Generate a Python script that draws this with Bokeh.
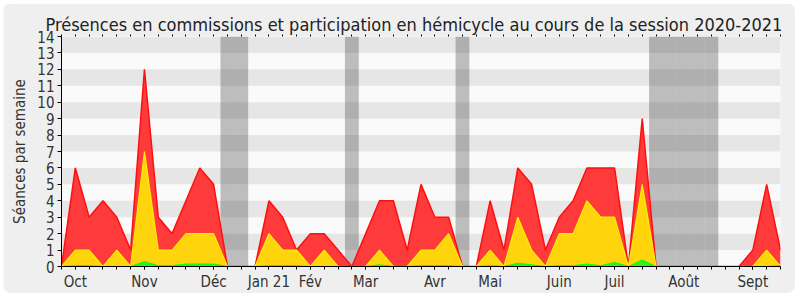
from bokeh.plotting import figure
from bokeh.models import Range1d, FixedTicker, LinearAxis, BoxAnnotation
from bokeh.embed import file_html
from bokeh.resources import INLINE

weeks = list(range(53))
presences = [0, 6, 3, 4, 3, 1, 12, 3, 2, 4, 6, 5, 0, 0,
             0, 4, 3, 1, 2, 2, 1, 0, 2, 4, 4, 1, 5, 3, 3, 0,
             0, 4, 1, 6, 5, 1, 3, 4, 6, 6, 6, 0, 9, 0,
             0, 0, 0, 0, 0, 0, 1, 5, 1]
hemicycle = [0, 1, 1, 0, 1, 0, 7, 1, 1, 2, 2, 2, 0, 0,
             0, 2, 1, 1, 0, 1, 0, 0, 0, 1, 0, 0, 1, 1, 2, 0,
             0, 1, 0, 3, 1, 0, 2, 2, 4, 3, 3, 0, 5, 0,
             0, 0, 0, 0, 0, 0, 0, 1, 0]
interventions = [0, 0.05, 0.05, 0, 0, 0, 0.3, 0.05, 0.05, 0.15, 0.15, 0.15, 0, 0,
                 0, 0.05, 0.05, 0.05, 0, 0, 0, 0, 0, 0.1, 0, 0, 0.05, 0.05, 0.05, 0,
                 0, 0.05, 0, 0.2, 0.1, 0, 0.05, 0.05, 0.15, 0.05, 0.25, 0, 0.4, 0,
                 0, 0, 0, 0, 0, 0, 0, 0, 0.05]
vacances = [12, 13, 21, 29, 43, 44, 45, 46, 47]
month_ticks = [1, 6, 11, 15, 18, 22, 27, 31, 36, 40, 45, 50]
month_labels = ["Oct", "Nov", "Déc", "Jan 21", "Fév", "Mar", "Avr", "Mai",
                "Juin", "Juil", "Août", "Sept"]
y_ticks = list(range(15))

FONT = "DejaVu Sans Condensed"

p = figure(width=792, height=290, x_range=Range1d(0, 52), y_range=Range1d(0, 14),
           output_backend="svg", toolbar_location=None,
           min_border_left=58, min_border_right=15, min_border_top=33, min_border_bottom=27,
           background_fill_color="#fafafa", border_fill_color="#efefef",
           outline_line_color=None)
p.margin = (3, 5, 7, 3)
p.styles = {"border-radius": "8px", "overflow": "hidden"}

p.title.text = "Présences en commissions et participation en hémicycle au cours de la session 2020-2021"
p.title.align = "left"
p.title.text_font = FONT
p.title.text_font_size = "18px"
p.title.text_font_style = "normal"
p.title.text_color = "#222222"
p.title.standoff = 0
p.title.offset = -16

for k in range(1, 14, 2):
    p.add_layout(BoxAnnotation(bottom=k, top=k + 1, fill_color="#e6e6e6", fill_alpha=1,
                               line_color=None, level="underlay"))

p.vbar(x=vacances, width=1, bottom=0, top=14, fill_color="#333333", fill_alpha=0.3,
       line_color=None)

p.varea(x=weeks, y1=0, y2=presences, fill_color="#ff3a3a")
p.line(weeks, presences, line_color="#ff1010", line_width=1.5)
p.varea(x=weeks, y1=0, y2=hemicycle, fill_color="#ffd40c")
p.line(weeks, hemicycle, line_color="#ffee00", line_width=1.2)
p.varea(x=weeks, y1=0, y2=interventions, fill_color="#33ee22")
p.line(weeks, interventions, line_color="#00ff00", line_width=1)

p.xgrid.visible = False
p.ygrid.visible = False

xa = p.xaxis[0]
xa.ticker = FixedTicker(ticks=month_ticks, minor_ticks=weeks)
xa.major_label_overrides = {t: l for t, l in zip(month_ticks, month_labels)}
xa.major_tick_out = 3
xa.major_tick_in = 0
xa.minor_tick_out = 3
xa.minor_tick_in = 0
xa.axis_line_color = "black"
xa.major_tick_line_color = "black"
xa.minor_tick_line_color = "black"
xa.major_label_text_font = FONT
xa.major_label_text_font_size = "15px"
xa.major_label_text_color = "#333333"
xa.major_label_standoff = 3

ya = p.yaxis[0]
ya.ticker = FixedTicker(ticks=y_ticks)
ya.major_tick_out = 4
ya.major_tick_in = 0
ya.minor_tick_out = 0
ya.minor_tick_in = 0
ya.axis_line_color = "black"
ya.major_label_text_font = FONT
ya.major_label_text_font_size = "15px"
ya.major_label_text_color = "#333333"
ya.major_label_standoff = 3
ya.axis_label = "Séances par semaine"
ya.axis_label_text_font = FONT
ya.axis_label_text_font_size = "15px"
ya.axis_label_text_font_style = "normal"
ya.axis_label_text_color = "#333333"
ya.axis_label_standoff = 5

top = LinearAxis(ticker=FixedTicker(ticks=weeks))
top.axis_line_color = None
top.major_tick_out = 2
top.major_tick_in = 0
top.minor_tick_out = 0
top.major_tick_line_color = "black"
top.major_label_overrides = {w: "" for w in weeks}
top.major_label_text_font_size = "1px"
top.major_label_standoff = 0
p.add_layout(top, "above")

open("out.html", "w").write(file_html(p, INLINE))
